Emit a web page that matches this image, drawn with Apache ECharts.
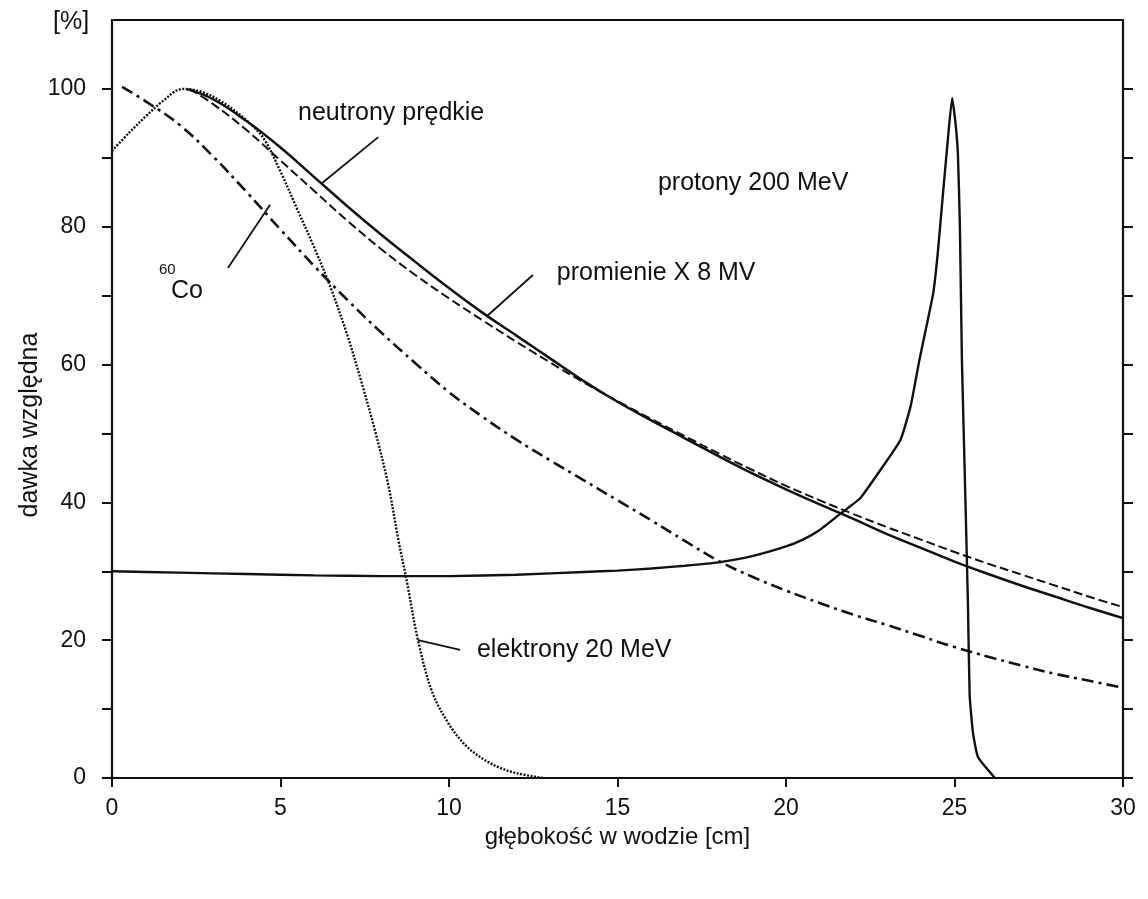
<!DOCTYPE html>
<html>
<head>
<meta charset="utf-8">
<script src="https://cdn.jsdelivr.net/npm/echarts@6/dist/echarts.min.js"></script>
<style>
  html, body { margin: 0; padding: 0; background: #fff; }
  #chart { width: 1148px; height: 899px; }
</style>
</head>
<body>
<div id="chart"></div>
<script>
// depth [cm], relative dose [%]
const electrons = [
  [0, 91.0], [0.5, 93.6], [1.0, 96.0], [1.5, 98.2], [2.1, 100], [2.7, 99.5],
  [3.3, 98.0], [4.0, 95.4], [4.5, 92.8], [5.0, 88.0], [5.5, 82.5], [6.0, 77.0],
  [6.5, 71.0], [7.0, 64.0], [7.4, 57.5], [7.8, 50.5], [8.2, 42.5], [8.5, 34.5],
  [8.75, 28.5], [9.08, 20.0], [9.5, 12.5], [10.0, 7.8], [10.5, 4.7], [11.0, 2.8],
  [11.5, 1.5], [12.0, 0.7], [12.8, 0]
];
const neutrons = [
  [2.2, 100], [3, 98.5], [4, 95.3], [5, 91.5], [6, 87.2], [7, 82.9], [8, 78.8],
  [9, 74.9], [10, 71.1], [11, 67.5], [12, 64.2], [13, 60.9], [14, 57.6], [15, 54.6],
  [16, 51.9], [17, 49.3], [18, 46.7], [19, 44.2], [20, 41.9], [21, 39.7], [22, 37.6],
  [23, 35.4], [24, 33.4], [25, 31.4], [26, 29.6], [27, 27.9], [28, 26.3], [29, 24.7],
  [30, 23.2]
];
const xray8MV = [
  [2.3, 100], [3, 97.8], [4, 94.0], [5, 89.6], [6, 85.2], [7, 80.8], [8, 76.7],
  [9, 73.0], [10, 69.6], [11, 66.4], [12, 63.3], [13, 60.3], [14, 57.4], [15, 54.7],
  [16, 52.1], [17, 49.6], [18, 47.1], [19, 44.7], [20, 42.4], [21, 40.3], [22, 38.3],
  [23, 36.4], [24, 34.6], [25, 32.8], [26, 31.1], [27, 29.5], [28, 27.9], [29, 26.3],
  [30, 24.8]
];
const cobalt60 = [
  [0.3, 100.3], [1, 98.2], [2, 94.8], [3, 90.2], [4, 85.0], [5, 79.6], [6, 74.3],
  [7, 69.3], [8, 64.6], [9, 60.2], [10, 56.0], [11, 52.4], [12, 49.1], [13, 46.1],
  [14, 43.2], [15, 40.3], [16, 37.4], [17, 34.4], [18, 31.5], [19, 29.2], [20, 27.2],
  [21, 25.4], [22, 23.7], [23, 22.2], [24, 20.6], [25, 19.0], [26, 17.6], [27, 16.3],
  [28, 15.1], [29, 14.1], [30, 13.1]
];
const protons = [
  [0, 30.0], [2, 29.8], [4, 29.6], [6, 29.4], [8, 29.3], [10, 29.3], [12, 29.5],
  [14, 29.9], [15, 30.1], [16, 30.4], [17, 30.8], [18, 31.3], [19, 32.2], [20, 33.6],
  [20.5, 34.6], [21, 36.0], [21.6, 38.3], [22.2, 40.6], [22.8, 44.7], [23.4, 49.1],
  [23.7, 54.0], [23.96, 60.7], [24.2, 66.3], [24.37, 70.4], [24.5, 76.0], [24.66, 84.9],
  [24.8, 92.5], [24.93, 98.7], [25.03, 95.0], [25.1, 90.7], [25.16, 80.0], [25.22, 60.7],
  [25.3, 45.0], [25.4, 25.0], [25.45, 12.0], [25.55, 6.5], [25.7, 3.0], [26.2, 0]
];

const xTicks = [0, 5, 10, 15, 20, 25, 30];
const yTicks = [0, 10, 20, 30, 40, 50, 60, 70, 80, 90, 100];
const yLabels = [0, 20, 40, 60, 80, 100];

// annotation leader lines (data coords) and label anchors
const notes = [
  { text: 'neutrony prędkie', at: [5.52, 96.5], line: [[6.2, 86.2], [7.9, 93.0]] },
  { text: 'protony 200 MeV', at: [16.2, 86.4], line: null },
  { text: 'promienie X 8 MV', at: [13.2, 73.3], line: [[11.13, 67.05], [12.49, 73.0]] },
  { text: 'elektrony 20 MeV', at: [10.83, 18.6], line: [[9.08, 20.0], [10.33, 18.6]] },
  { text: 'Co', sup: '60', at: [1.75, 70.6], line: [[3.44, 74.0], [4.69, 83.2]] }
];

const FONT = '"Liberation Sans", Arial, sans-serif';
const INK = '#111';

const chart = echarts.init(document.getElementById('chart'));

function curve(name, data, type, width, smooth) {
  return {
    name: name,
    type: 'line',
    data: data,
    symbol: 'none',
    smooth: smooth,
    lineStyle: { color: INK, width: width, type: type },
    silent: true,
    z: 3
  };
}

const series = [
  curve('protony', protons, 'solid', 2.4, 0.15),
  curve('neutrony', neutrons, 'solid', 2.5, 0.4),
  curve('X 8 MV', xray8MV, [9, 4], 2, 0.4),
  curve('60Co', cobalt60, [12, 5, 3, 5], 2.6, 0.4),
  curve('elektrony', electrons, [2, 1.5], 2.4, 0.35)
];
notes.forEach(function (n) {
  if (n.line) {
    series.push({
      type: 'line', data: n.line, symbol: 'none', silent: true,
      lineStyle: { color: INK, width: 1.8 }, z: 4
    });
  }
});

const axisLine = { show: true, onZero: false, lineStyle: { color: INK, width: 2.2 } };

chart.setOption({
  animation: false,
  backgroundColor: '#fff',
  textStyle: { fontFamily: FONT },
  grid: { left: 112, right: 25, top: 20, bottom: 121, containLabel: false, outerBoundsMode: 'none' },
  xAxis: [
    {
      type: 'value', min: 0, max: 30, interval: 5, position: 'bottom',
      axisLine: axisLine,
      axisTick: { show: true, inside: false, length: 9, lineStyle: { color: INK, width: 2 }, customValues: xTicks },
      axisLabel: { fontSize: 23, color: INK, margin: 19, fontFamily: FONT, customValues: xTicks },
      splitLine: { show: false },
      name: 'głębokość w wodzie [cm]', nameLocation: 'middle', nameGap: 46,
      nameTextStyle: { fontSize: 24, color: INK, fontFamily: FONT }
    },
    {
      type: 'value', min: 0, max: 30, position: 'top',
      axisLine: axisLine, axisTick: { show: false }, axisLabel: { show: false },
      splitLine: { show: false }
    }
  ],
  yAxis: [
    {
      type: 'value', min: 0, max: 110, interval: 10, position: 'left',
      axisLine: axisLine,
      axisTick: { show: true, inside: false, length: 10, lineStyle: { color: INK, width: 2 }, customValues: yTicks },
      axisLabel: { fontSize: 23, color: INK, margin: 26, fontFamily: FONT, customValues: yLabels },
      splitLine: { show: false }
    },
    {
      type: 'value', min: 0, max: 110, interval: 10, position: 'right',
      axisLine: axisLine,
      axisTick: { show: true, inside: false, length: 10, lineStyle: { color: INK, width: 2 }, customValues: yTicks },
      axisLabel: { show: false },
      splitLine: { show: false }
    }
  ],
  series: series
});

// labels placed through the axes
const graphics = [
  {
    type: 'text', left: 53, top: 10,
    style: { text: '[%]', font: '25px ' + FONT, fill: INK }
  },
  {
    type: 'text', x: 30, y: 425, rotation: Math.PI / 2,
    style: { text: 'dawka względna', font: '25px ' + FONT, fill: INK, align: 'center', verticalAlign: 'middle' }
  }
];
notes.forEach(function (n) {
  const p = chart.convertToPixel({ gridIndex: 0 }, n.at);
  if (n.sup) {
    graphics.push({
      type: 'text', x: p[0] - 12, y: p[1] - 22,
      style: { text: n.sup, font: '15px ' + FONT, fill: INK, verticalAlign: 'middle' }
    });
  }
  graphics.push({
    type: 'text', x: p[0], y: p[1],
    style: { text: n.text, font: '25px ' + FONT, fill: INK, verticalAlign: 'middle' }
  });
});
chart.setOption({ graphic: graphics });
</script>
</body>
</html>
